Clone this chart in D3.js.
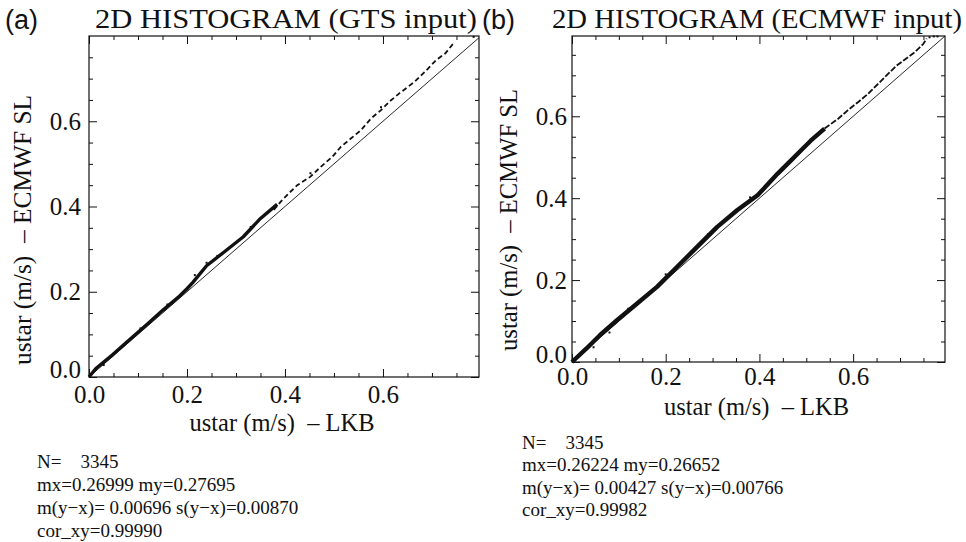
<!DOCTYPE html>
<html>
<head>
<meta charset="utf-8">
<script src="https://cdn.jsdelivr.net/npm/d3@7"></script>
<style>
  body { margin: 0; background: #fff; }
  svg text { fill: #111; }
</style>
</head>
<body>
<div id="chart"></div>
<script>
(function() {
    var width = 966,
        height = 542;

    // ticks
    var majorTicks = [0, 0.2, 0.4, 0.6];
    var tickLabels = ["0.0", "0.2", "0.4", "0.6"];
    var minorTicks = [0.05, 0.1, 0.15, 0.25, 0.3, 0.35, 0.45, 0.5, 0.55, 0.65, 0.7, 0.75];

    // (a) GTS input: dense band and sparse upper part, [x, y]
    var gtsBand = [[0.000, 0.000], [0.014, 0.020], [0.048, 0.052], [0.082, 0.087], [0.117, 0.122],
        [0.151, 0.157], [0.185, 0.190], [0.200, 0.207], [0.212, 0.222], [0.240, 0.261],
        [0.281, 0.298], [0.315, 0.329], [0.350, 0.372], [0.384, 0.405]];
    var gtsSparse = [[0.377, 0.392], [0.391, 0.411], [0.408, 0.431], [0.425, 0.450], [0.452, 0.470],
        [0.473, 0.493], [0.497, 0.517], [0.514, 0.540], [0.535, 0.560], [0.555, 0.579],
        [0.576, 0.607], [0.596, 0.626], [0.613, 0.646], [0.634, 0.666], [0.665, 0.693],
        [0.689, 0.720], [0.709, 0.744], [0.727, 0.759], [0.744, 0.783]];
    var gtsDots = [[0.240, 0.268], [0.216, 0.239], [0.785, 0.798], [0.596, 0.633], [0.452, 0.478],
        [0.030, 0.028], [0.105, 0.114], [0.160, 0.170], [0.262, 0.284], [0.330, 0.352]];

    // (b) ECMWF input
    var ecmwfBand = [[0.000, 0.000], [0.031, 0.033], [0.060, 0.066], [0.096, 0.102], [0.139, 0.143],
        [0.182, 0.184], [0.224, 0.232], [0.267, 0.281], [0.310, 0.330], [0.353, 0.371],
        [0.396, 0.407], [0.439, 0.460], [0.468, 0.493], [0.489, 0.517], [0.510, 0.541],
        [0.539, 0.570]];
    var ecmwfSparse = [[0.539, 0.570], [0.568, 0.594], [0.589, 0.615], [0.611, 0.635], [0.632, 0.655],
        [0.654, 0.680], [0.675, 0.704], [0.693, 0.724], [0.718, 0.745], [0.732, 0.757],
        [0.750, 0.777], [0.757, 0.790]];
    var ecmwfDots = [[0.763, 0.793], [0.772, 0.795], [0.780, 0.795], [0.046, 0.036], [0.080, 0.072],
        [0.120, 0.130], [0.200, 0.214], [0.290, 0.312], [0.380, 0.402], [0.450, 0.476]];

    var gtsStats = ["N=    3345", "mx=0.26999 my=0.27695",
        "m(y\u2212x)= 0.00696 s(y\u2212x)=0.00870", "cor_xy=0.99990"];
    var ecmwfStats = ["N=    3345", "mx=0.26224 my=0.26652",
        "m(y\u2212x)= 0.00427 s(y\u2212x)=0.00766", "cor_xy=0.99982"];

    var svg = d3.select("#chart")
        .append("svg")
        .attr("width", width)
        .attr("height", height);

    var serif = "Liberation Serif, Times New Roman, serif";

    function drawPanel(p) {
        var x = d3.scaleLinear().domain([0, p.xMax]).range([p.left, p.right]);
        var y = d3.scaleLinear().domain([0, p.yMax]).range([p.bottom, p.top]);
        var g = svg.append("g").attr("font-family", serif);

        // frame
        g.append("rect")
            .attr("x", p.left).attr("y", p.top)
            .attr("width", p.right - p.left).attr("height", p.bottom - p.top)
            .attr("fill", "none").attr("stroke", "#111").attr("stroke-width", 1.2);

        // 1:1 line
        g.append("line")
            .attr("x1", x(0)).attr("y1", y(0))
            .attr("x2", x(p.xMax)).attr("y2", y(p.xMax))
            .attr("stroke", "#111").attr("stroke-width", 0.9);

        var line = d3.line().x(function(d) { return x(d[0]); }).y(function(d) { return y(d[1]); });

        g.append("path")
            .attr("d", line(p.band))
            .attr("fill", "none").attr("stroke", "#111")
            .attr("stroke-width", p.bandWidth).attr("stroke-linejoin", "round");

        g.append("path")
            .attr("d", line(p.sparse))
            .attr("fill", "none").attr("stroke", "#111")
            .attr("stroke-width", 1.8).attr("stroke-dasharray", p.dash);

        g.selectAll("rect.dot")
            .data(p.dots)
            .enter().append("rect")
            .attr("class", "dot")
            .attr("x", function(d) { return x(d[0]) - 1; })
            .attr("y", function(d) { return y(d[1]) - 1; })
            .attr("width", 2).attr("height", 2)
            .attr("fill", "#111");

        // axes, ticks pointing inward on all four sides
        function fmt(d) { return tickLabels[majorTicks.indexOf(d)]; }
        var axes = [
            [d3.axisBottom(x), p.bottom, 0, true], [d3.axisTop(x), p.top, 0, false],
            [d3.axisLeft(y), 0, p.left, true], [d3.axisRight(y), 0, p.right, false]
        ];
        axes.forEach(function(a) {
            var major = a[0].tickValues(majorTicks).tickSize(-8).tickPadding(a[3] ? p.pad : 0)
                .tickFormat(a[3] ? fmt : "");
            var ag = g.append("g")
                .attr("transform", "translate(" + a[2] + "," + a[1] + ")")
                .call(major)
                .attr("font-family", serif).attr("font-size", 25);
            ag.select(".domain").remove();
            ag.selectAll("line").attr("stroke", "#111");
            ag.selectAll("text").attr("fill", "#111");
            var mg = g.append("g")
                .attr("transform", "translate(" + a[2] + "," + a[1] + ")")
                .call(a[0].tickValues(minorTicks).tickSize(-4).tickFormat(""));
            mg.select(".domain").remove();
            mg.selectAll("line").attr("stroke", "#111");
        });
        // lowest y label sits a bit above the corner
        g.selectAll("text").filter(function(d) { return d === 0 && this.getAttribute("x") < 0; })
            .attr("dy", p.zeroDy);

        // titles
        svg.append("text")
            .attr("x", p.tagX).attr("y", 29)
            .attr("font-family", "Liberation Sans, Arial, sans-serif").attr("font-size", 27)
            .text(p.tag);
        svg.append("text")
            .attr("x", p.titleX).attr("y", 28)
            .attr("textLength", p.titleLen).attr("lengthAdjust", "spacingAndGlyphs")
            .attr("font-family", serif).attr("font-size", 28)
            .text(p.title);

        // axis titles
        svg.append("text")
            .attr("x", (p.left + p.right) / 2 - 2).attr("y", p.xLabelY)
            .attr("text-anchor", "middle")
            .attr("textLength", 185).attr("lengthAdjust", "spacingAndGlyphs")
            .attr("font-family", serif).attr("font-size", 25)
            .style("white-space", "pre")
            .text("ustar (m/s)  \u2013 LKB");
        svg.append("text")
            .attr("transform", "translate(" + p.yLabelX + "," + p.yLabelY + ") rotate(-90)")
            .attr("text-anchor", "middle")
            .attr("textLength", p.yLabelLen).attr("lengthAdjust", "spacingAndGlyphs")
            .attr("font-family", serif).attr("font-size", 25)
            .style("white-space", "pre")
            .text("ustar (m/s)  \u2013 ECMWF SL");

        // statistics
        svg.append("g").selectAll("text")
            .data(p.stats)
            .enter().append("text")
            .attr("x", p.statX)
            .attr("y", function(d, i) { return p.statY + i * p.statStep; })
            .attr("font-family", serif).attr("font-size", 19)
            .style("white-space", "pre")
            .text(function(d) { return d; });
    }

    drawPanel({
        left: 89, right: 479, top: 36, bottom: 377, xMax: 0.796, yMax: 0.8,
        band: gtsBand, sparse: gtsSparse, dots: gtsDots, bandWidth: 3.4, dash: "5,3",
        pad: 8, zeroDy: "0.03em",
        tag: "(a)", tagX: 5, title: "2D HISTOGRAM (GTS input)", titleX: 95, titleLen: 382,
        xLabelY: 431, yLabelX: 31, yLabelY: 230, yLabelLen: 270,
        stats: gtsStats, statX: 37, statY: 468, statStep: 23
    });

    drawPanel({
        left: 572, right: 945, top: 36, bottom: 362, xMax: 0.796, yMax: 0.796,
        band: ecmwfBand, sparse: ecmwfSparse, dots: ecmwfDots, bandWidth: 4.4, dash: "6,2",
        pad: 5, zeroDy: "0.0em",
        tag: "(b)", tagX: 482, title: "2D HISTOGRAM (ECMWF input)", titleX: 552, titleLen: 410,
        xLabelY: 415, yLabelX: 517, yLabelY: 220, yLabelLen: 262,
        stats: ecmwfStats, statX: 522, statY: 449, statStep: 22.3
    });
})();
</script>
</body>
</html>
